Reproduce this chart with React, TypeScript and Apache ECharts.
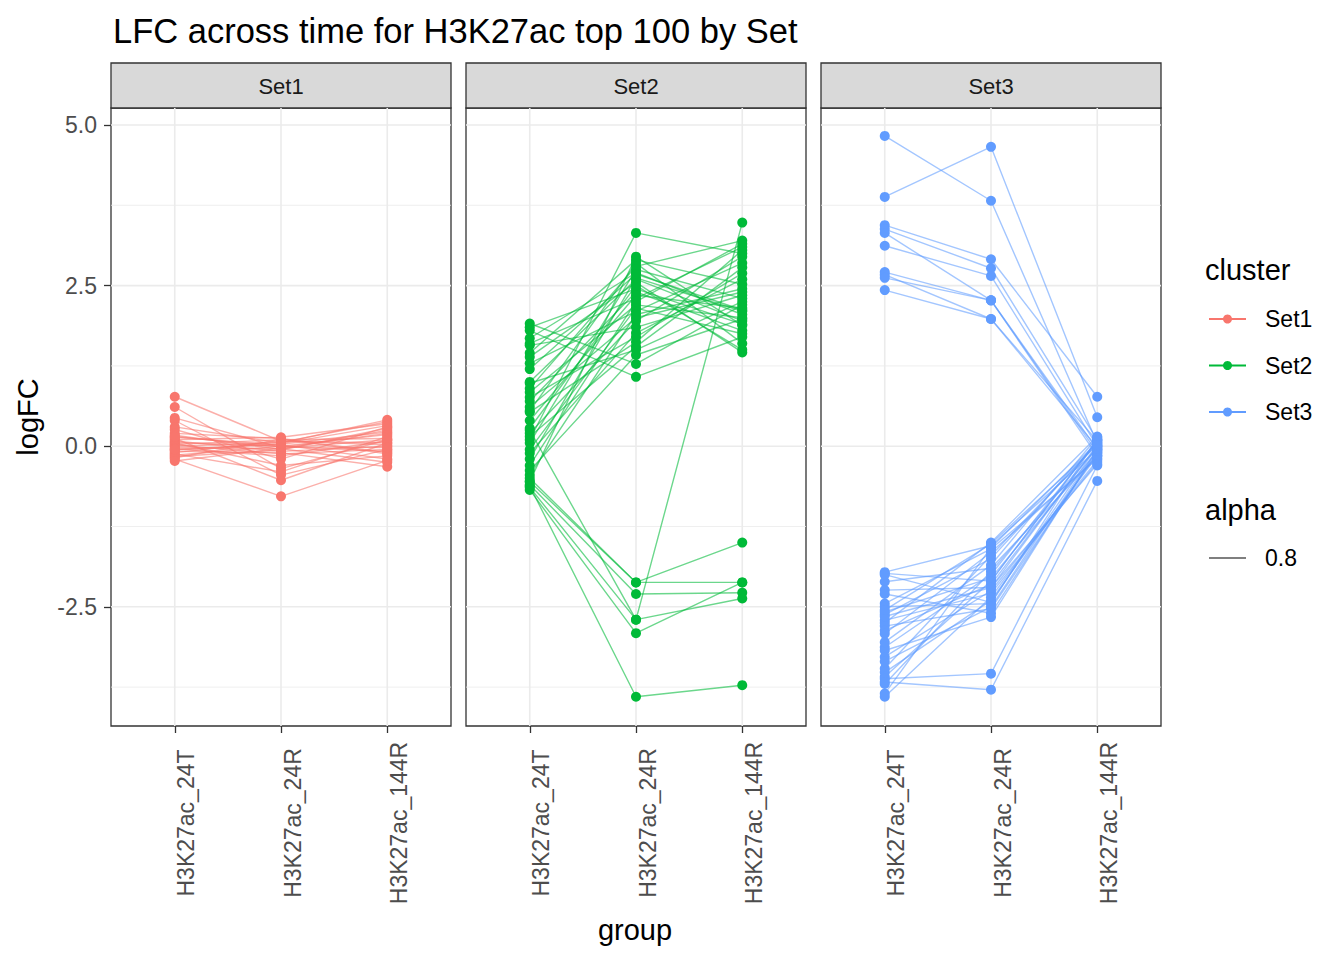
import React, { useEffect, useRef } from 'react';
import * as echarts from 'echarts';
import type { EChartsType } from 'echarts';

const groups = ['H3K27ac_24T', 'H3K27ac_24R', 'H3K27ac_144R'];
const sets = ['Set1', 'Set2', 'Set3'];
const colors = ['#F8766D', '#00BA38', '#619CFF'];
const yMajor = [-2.5, 0, 2.5, 5.0];
const yMinor = [-3.75, -1.25, 1.25, 3.75];

// logFC per gene: [24T, 24R, 144R]
const set1Genes = [
  [0.77, 0.08, 0.05],
  [0.61, -0.35, 0.1],
  [0.44, -0.02, 0.2],
  [0.4, -0.45, -0.05],
  [0.3, 0.05, 0.41],
  [0.26, -0.2, 0.3],
  [0.2, 0.12, -0.1],
  [0.17, -0.05, 0.25],
  [0.14, 0.02, -0.2],
  [0.12, -0.53, 0.05],
  [0.1, 0.14, 0.35],
  [0.08, -0.08, 0.0],
  [0.06, 0.0, 0.18],
  [0.05, -0.3, -0.15],
  [0.03, 0.1, 0.12],
  [0.02, -0.12, -0.05],
  [0.0, 0.06, 0.38],
  [-0.02, -0.04, -0.25],
  [-0.04, -0.15, 0.08],
  [-0.06, 0.03, 0.22],
  [-0.08, -0.1, -0.32],
  [-0.1, 0.08, 0.02],
  [-0.12, -0.4, 0.15],
  [-0.14, 0.0, -0.08],
  [-0.16, -0.06, 0.28],
  [-0.18, 0.11, -0.12],
  [-0.2, -0.78, -0.22],
  [-0.23, -0.03, 0.1],
  [0.15, -0.01, -0.02],
  [-0.05, 0.04, 0.32],
];

const set2Genes = [
  [1.91, 1.28, 2.2],
  [1.85, 2.45, 1.9],
  [1.8, 1.08, 1.7],
  [1.68, 2.7, 2.05],
  [1.6, 2.3, 3.1],
  [1.57, 1.85, 2.35],
  [1.45, 2.9, 2.52],
  [1.39, 2.55, 1.46],
  [1.29, 2.1, 2.85],
  [1.0, 2.6, 1.95],
  [0.98, 1.5, 2.25],
  [0.9, 2.8, 3.2],
  [0.84, 2.2, 2.0],
  [0.76, 1.7, 2.69],
  [0.7, 2.4, 1.8],
  [0.61, 2.0, 2.4],
  [0.55, 2.85, 1.6],
  [0.53, 1.62, 3.05],
  [0.4, 2.35, 2.15],
  [0.28, 2.5, 1.5],
  [0.2, 1.95, 2.95],
  [0.1, 3.32, 3.0],
  [0.05, 2.75, 2.3],
  [-0.05, 2.15, 1.75],
  [-0.11, 1.76, 2.6],
  [-0.2, 2.62, 2.1],
  [-0.3, 2.25, 3.15],
  [-0.38, 1.42, 1.98],
  [-0.45, 2.05, 2.45],
  [-0.55, 2.95, 1.88],
  [0.15, 1.55, 2.78],
  [1.2, 2.68, 2.12],
  [-0.5, -2.12, -1.5],
  [-0.55, -2.12, -2.12],
  [-0.6, -2.3, -2.28],
  [-0.64, -2.7, -2.37],
  [0.25, -2.7, 3.48],
  [-0.68, -2.91, -2.12],
  [-0.62, -3.9, -3.72],
];

const set3Genes = [
  [4.83, 3.82, 0.05],
  [3.88, 4.66, 0.45],
  [3.44, 2.91, 0.77],
  [3.38, 2.77, 0.1],
  [3.32, 2.27, -0.05],
  [3.12, 2.65, 0.0],
  [2.71, 2.27, -0.1],
  [2.67, 1.98, 0.08],
  [2.62, 2.27, -0.15],
  [2.43, 1.98, -0.02],
  [-1.96, -1.55, -0.05],
  [-1.98, -2.1, 0.1],
  [-2.11, -1.9, -0.15],
  [-2.24, -2.2, 0.02],
  [-2.45, -1.6, -0.2],
  [-2.5, -2.45, 0.12],
  [-2.58, -2.05, -0.08],
  [-2.62, -1.75, 0.05],
  [-2.71, -2.29, -0.25],
  [-2.75, -1.5, 0.15],
  [-2.8, -2.53, -0.1],
  [-2.87, -2.15, 0.0],
  [-2.92, -1.65, -0.18],
  [-3.13, -2.0, 0.08],
  [-3.18, -2.66, -0.05],
  [-3.28, -2.25, -0.22],
  [-3.46, -1.7, 0.03],
  [-3.52, -2.4, -0.12],
  [-3.59, -2.1, 0.1],
  [-3.62, -3.54, -0.3],
  [-3.7, -1.95, -0.02],
  [-3.67, -3.79, -0.54],
  [-3.9, -2.35, -0.15],
  [-3.85, -1.58, 0.06],
  [-2.3, -2.6, -0.07],
  [-2.0, -2.43, 0.0],
  [-3.05, -1.85, 0.14],
  [-2.65, -2.2, -0.28],
  [-3.35, -2.5, -0.04],
  [-2.55, -1.52, 0.02],
];

const panels = [set1Genes, set2Genes, set3Genes];

const FONT = '"Liberation Sans", Arial, sans-serif';
const X_MIN = -0.6;
const X_MAX = 2.6;
const Y_MIN = -4.355;
const Y_MAX = 5.264;
const panelLeft = [111, 466, 821];
const panelWidth = 340;
const panelTop = 108;
const panelHeight = 618;

const App = () => {
  const chartRef = useRef<HTMLDivElement>(null);

  useEffect(() => {
    document.body.style.margin = '0';
    let chartInstance: EChartsType | null = null;

    if (chartRef.current) {
      chartInstance = echarts.init(chartRef.current, null, { renderer: 'svg' });

      const series: any[] = [];

      panels.forEach((genes, i) => {
        // background grid lines, drawn as series so they sit on the scales
        const gridLine = (data: number[][], width: number) => ({
          type: 'line',
          xAxisIndex: i,
          yAxisIndex: i,
          data,
          symbol: 'none',
          silent: true,
          z: 1,
          lineStyle: { color: '#EBEBEB', width },
        });
        yMinor.forEach((v) => series.push(gridLine([[X_MIN, v], [X_MAX, v]], 0.8)));
        yMajor.forEach((v) => series.push(gridLine([[X_MIN, v], [X_MAX, v]], 1.6)));
        groups.forEach((_, k) => series.push(gridLine([[k, Y_MIN], [k, Y_MAX]], 1.6)));

        genes.forEach((g) => {
          series.push({
            type: 'line',
            xAxisIndex: i,
            yAxisIndex: i,
            data: g.map((v, k) => [k, v]),
            showSymbol: false,
            symbol: 'none',
            silent: true,
            z: 2,
            lineStyle: { color: colors[i], width: 1.4, opacity: 0.58 },
          });
        });

        series.push({
          type: 'scatter',
          name: sets[i],
          xAxisIndex: i,
          yAxisIndex: i,
          data: genes.flatMap((g) => g.map((v, k) => [k, v])),
          symbolSize: 10,
          z: 3,
          itemStyle: { color: colors[i], opacity: 1 },
        });
      });

      const graphics: any[] = [];
      sets.forEach((s, i) => {
        graphics.push({
          type: 'rect',
          shape: { x: panelLeft[i], y: 63, width: panelWidth, height: 45 },
          style: { fill: '#D9D9D9', stroke: '#333333', lineWidth: 1.3 },
        });
        graphics.push({
          type: 'text',
          x: panelLeft[i] + panelWidth / 2,
          y: 86,
          style: { text: s, fontSize: 22, fill: '#1A1A1A', fontFamily: FONT, align: 'center', verticalAlign: 'middle' },
        });
      });

      // axis titles
      graphics.push({
        type: 'text',
        x: 28,
        y: 417,
        rotation: Math.PI / 2,
        style: { text: 'logFC', fontSize: 29, fill: '#000', fontFamily: FONT, align: 'center', verticalAlign: 'middle' },
      });
      graphics.push({
        type: 'text',
        x: 635,
        y: 930,
        style: { text: 'group', fontSize: 29, fill: '#000', fontFamily: FONT, align: 'center', verticalAlign: 'middle' },
      });

      // legend
      graphics.push({
        type: 'text',
        x: 1205,
        y: 270,
        style: { text: 'cluster', fontSize: 29, fill: '#000', fontFamily: FONT, verticalAlign: 'middle' },
      });
      sets.forEach((s, i) => {
        const y = 319 + i * 46.5;
        graphics.push({ type: 'line', shape: { x1: 1209, y1: y, x2: 1246, y2: y }, style: { stroke: colors[i], lineWidth: 2 } });
        graphics.push({ type: 'circle', shape: { cx: 1227.5, cy: y, r: 4.5 }, style: { fill: colors[i] } });
        graphics.push({
          type: 'text',
          x: 1265,
          y,
          style: { text: s, fontSize: 23, fill: '#000', fontFamily: FONT, verticalAlign: 'middle' },
        });
      });
      graphics.push({
        type: 'text',
        x: 1205,
        y: 510,
        style: { text: 'alpha', fontSize: 29, fill: '#000', fontFamily: FONT, verticalAlign: 'middle' },
      });
      graphics.push({ type: 'line', shape: { x1: 1209, y1: 558, x2: 1246, y2: 558 }, style: { stroke: '#7F7F7F', lineWidth: 2 } });
      graphics.push({
        type: 'text',
        x: 1265,
        y: 558,
        style: { text: '0.8', fontSize: 23, fill: '#000', fontFamily: FONT, verticalAlign: 'middle' },
      });

      const option = {
        animation: false,
        textStyle: { fontFamily: FONT },
        title: {
          text: 'LFC across time for H3K27ac top 100 by Set',
          left: 108,
          top: 8,
          textStyle: { fontSize: 34.5, fontWeight: 'normal', color: '#000', fontFamily: FONT },
        },
        grid: panelLeft.map((left) => ({
          left,
          top: panelTop,
          width: panelWidth,
          height: panelHeight,
          show: true,
          backgroundColor: '#FFFFFF',
          borderColor: '#333333',
          borderWidth: 1.3,
          outerBoundsMode: 'none',
        })),
        xAxis: panelLeft.map((_, i) => ({
          type: 'value',
          gridIndex: i,
          min: X_MIN,
          max: X_MAX,
          axisLine: { show: false, onZero: false },
          splitLine: { show: false },
          axisTick: { show: true, customValues: [0, 1, 2], length: 7, lineStyle: { color: '#333333', width: 1.3 } },
          axisLabel: {
            customValues: [0, 1, 2],
            formatter: (v: number) => groups[Math.round(v)] ?? '',
            rotate: 90,
            align: 'center',
            verticalAlign: 'top',
            margin: 97,
            fontSize: 23,
            color: '#4D4D4D',
            fontFamily: FONT,
          },
        })),
        yAxis: panelLeft.map((_, i) => ({
          type: 'value',
          gridIndex: i,
          min: Y_MIN,
          max: Y_MAX,
          axisLine: { show: false, onZero: false },
          splitLine: { show: false },
          axisTick: { show: i === 0, customValues: yMajor, length: 7, lineStyle: { color: '#333333', width: 1.3 } },
          axisLabel: {
            show: i === 0,
            customValues: yMajor,
            formatter: (v: number) => v.toFixed(1),
            margin: 14,
            fontSize: 23,
            color: '#4D4D4D',
            fontFamily: FONT,
          },
        })),
        graphic: graphics,
        series,
      };

      chartInstance.setOption(option);
    }

    return () => {
      chartInstance?.dispose();
    };
  }, []);

  return <div ref={chartRef} style={{ width: '1344px', height: '960px' }}></div>;
};

export default App;
